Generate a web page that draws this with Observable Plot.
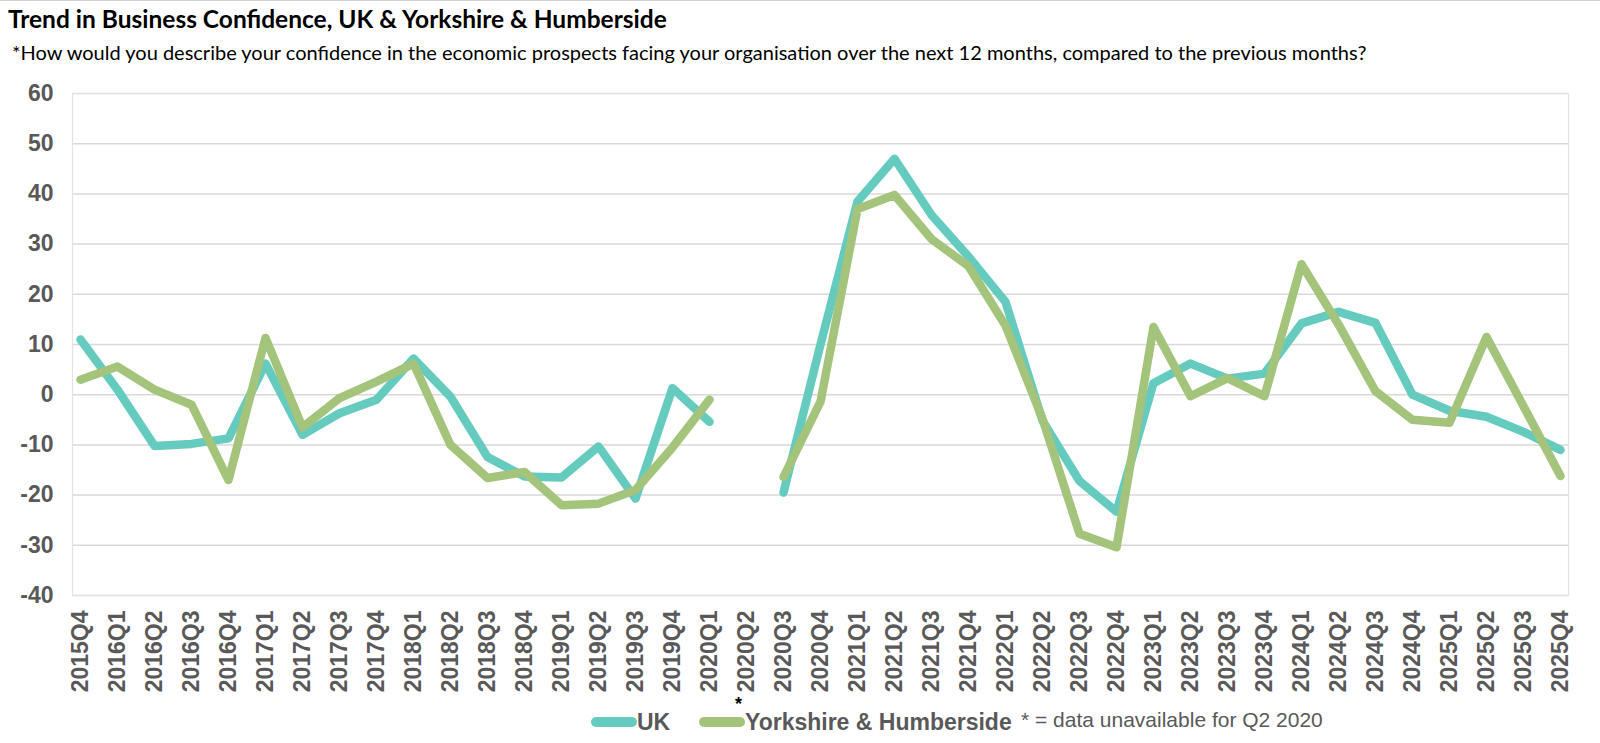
<!DOCTYPE html>
<html>
<head>
<meta charset="utf-8">
<script src="https://cdn.jsdelivr.net/npm/d3@7"></script>
<script src="https://cdn.jsdelivr.net/npm/@observablehq/plot@0.6"></script>
<style>
  html, body { margin: 0; padding: 0; background: #fff; }
  body { width: 1600px; height: 743px; position: relative; overflow: hidden; border-top: 1px solid #d0d0d0; box-sizing: border-box; }
  .abs { position: absolute; white-space: nowrap; }
  #title { left: 8px; top: 3px; font: bold 24.5px Lato, "Open Sans", sans-serif; color: #000; z-index: 2; }
  #sub { left: 12px; top: 39px; font: 20px Lato, "Open Sans", sans-serif; color: #000; z-index: 2; }
  #chart { left: 0; top: 59px; z-index: 1; }
  .sw { position: absolute; height: 10px; border-radius: 5px; }
  .lg { font: bold 23px "Liberation Sans", Arial, sans-serif; color: #595959; }
  .note { font: 21px "Liberation Sans", Arial, sans-serif; color: #595959; }
</style>
</head>
<body>
<div id="chart" class="abs"></div>
<div id="title" class="abs"></div>
<div id="sub" class="abs"></div>
<div id="legend"></div>
<script>
const titleText = "Trend in Business Confidence, UK & Yorkshire & Humberside";
const subtitleText = "*How would you describe your confidence in the economic prospects facing your organisation over the next 12 months, compared to the previous months?";

const quarters = ["2015Q4","2016Q1","2016Q2","2016Q3","2016Q4","2017Q1","2017Q2","2017Q3","2017Q4","2018Q1","2018Q2","2018Q3","2018Q4","2019Q1","2019Q2","2019Q3","2019Q4","2020Q1","2020Q2","2020Q3","2020Q4","2021Q1","2021Q2","2021Q3","2021Q4","2022Q1","2022Q2","2022Q3","2022Q4","2023Q1","2023Q2","2023Q3","2023Q4","2024Q1","2024Q2","2024Q3","2024Q4","2025Q1","2025Q2","2025Q3","2025Q4"];

const ukValues = [11, 1, -10.2, -9.8, -8.7, 6.2, -8, -3.7, -1, 7.2, -0.4, -12.4, -16.3, -16.5, -10.3, -20.7, 1.3, -5.4, null, -19.5, 10, 38.5, 47, 35.8, 27.5, 18.5, -5.2, -17.2, -23.3, 2.3, 6.2, 3.2, 4.2, 14.2, 16.5, 14.3, 0, -3.2, -4.4, -7.4, -11];

const yhValues = [3, 5.6, 1, -2, -17, 11.3, -6.5, -0.7, 2.6, 6.2, -10, -16.6, -15.4, -22, -21.7, -19, -10.5, -1, null, -16.4, -1.4, 37, 39.8, 31, 25.6, 13.8, -4.8, -27.7, -30.4, 13.5, -0.3, 3.3, -0.3, 26, 14, 0.7, -5, -5.6, 11.5, -2.3, -16.2];

const seriesNames = ["UK", "Yorkshire & Humberside"];
const seriesColors = ["#64cbbe", "#a3c47a"];
const yTicks = [60, 50, 40, 30, 20, 10, 0, -10, -20, -30, -40];
const starNote = [{q: "2020Q2", t: "*"}];
const noteText = "* = data unavailable for Q2 2020";

document.getElementById("title").textContent = titleText;
document.getElementById("sub").textContent = subtitleText;

const rows = [];
quarters.forEach((q, i) => {
  rows.push({q, v: ukValues[i], s: seriesNames[0]});
  rows.push({q, v: yhValues[i], s: seriesNames[1]});
});

const chart = Plot.plot({
  width: 1600,
  height: 661,
  marginLeft: 72,
  marginRight: 32,
  marginTop: 33,
  marginBottom: 126,
  style: {background: "transparent", overflow: "visible"},
  x: {type: "point", domain: quarters, padding: 0, label: null},
  y: {domain: [-40, 60], label: null},
  color: {domain: seriesNames, range: seriesColors},
  marks: [
    Plot.gridY(yTicks, {stroke: "#d9d9d9", strokeOpacity: 1, strokeWidth: 1.5}),
    Plot.frame({stroke: "#e3e3e3", strokeWidth: 1.2}),
    Plot.axisY(yTicks, {tickSize: 0, tickPadding: 19, tickFormat: d => String(d), fontSize: 23, fontWeight: "bold", fill: "#595959", fontFamily: "Liberation Sans, Arial, sans-serif"}),
    Plot.axisX(quarters, {tickSize: 0, tickPadding: 15, tickRotate: -90, fontSize: 23, fontWeight: "bold", fill: "#595959", fontFamily: "Liberation Sans, Arial, sans-serif"}),
    Plot.line(rows, {x: "q", y: "v", z: "s", stroke: "s", strokeWidth: 8.5, strokeLinejoin: "round", strokeLinecap: "round"}),
    Plot.text(starNote, {x: "q", text: "t", frameAnchor: "bottom", dy: 114, dx: -8, fontSize: 18, fontWeight: "bold", fill: "#000", fontFamily: "Liberation Sans, Arial, sans-serif"})
  ]
});
document.getElementById("chart").appendChild(chart);

// legend
const legend = document.getElementById("legend");
const items = [
  {sw: 591, tx: 637, name: seriesNames[0], color: seriesColors[0]},
  {sw: 699, tx: 745, name: seriesNames[1], color: seriesColors[1]}
];
items.forEach(it => {
  const s = document.createElement("div");
  s.className = "sw";
  s.style.left = it.sw + "px";
  s.style.width = "46px";
  s.style.top = "716px";
  s.style.background = it.color;
  legend.appendChild(s);
  const t = document.createElement("div");
  t.className = "abs lg";
  t.style.left = it.tx + "px";
  t.style.top = "708px";
  t.textContent = it.name;
  legend.appendChild(t);
});
const n = document.createElement("div");
n.className = "abs note";
n.style.left = "1021px";
n.style.top = "707px";
n.textContent = noteText;
legend.appendChild(n);
</script>
</body>
</html>
